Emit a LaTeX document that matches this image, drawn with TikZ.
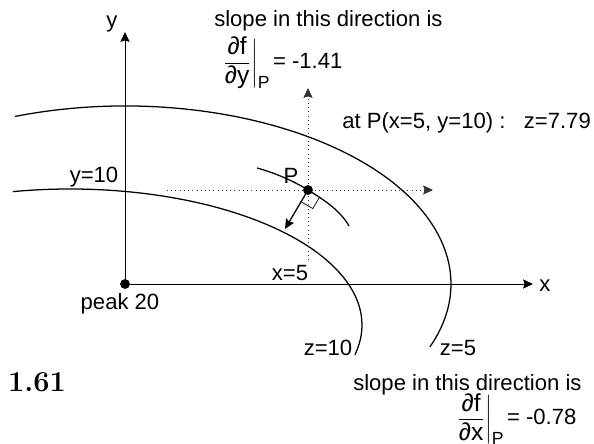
\documentclass[tikz,border=0pt]{standalone}
\usepackage{amsmath}
\usepackage{fontspec}
\newfontfamily\arialfont{Liberation Sans}
\usetikzlibrary{calc,arrows.meta}
\newcommand{\pdsize}{\fontsize{17.5}{20}\selectfont}
\newcommand{\subsize}{\fontsize{12.5}{14}\selectfont}

\begin{document}
\begin{tikzpicture}[>={Stealth[length=7pt,width=6.5pt,inset=1pt]}, x=0.025cm, y=-0.025cm,
	every node/.style={font=\arialfont\fontsize{15.7}{18}\selectfont, inner sep=0pt},
	axis/.style={line width=0.6pt},
	contour/.style={line width=0.9pt},
	guide/.style={black!80, line width=0.6pt, dash pattern=on 0.6pt off 2.4pt}]
			\useasboundingbox (0,0) rectangle (594,444);
			% 原点, 点P, 内圈中心
			\coordinate (O) at (125,284);
			\coordinate (P) at (308,190);
			\coordinate (C) at (70,325);
			% 坐标轴
			\coordinate (ytip) at (125,32);
			\coordinate (xtip) at (533,284);
			\draw[axis,->] (O) -- (ytip);
			\draw[axis,->] (O) -- (xtip);
			\node (ylab) at (112,24) {y};
			\node (xlab) at (545,286) {x};
			% 山峰
			\fill (O) circle (3.5pt);
			\node (peak) at (120,304) {peak 20};
			% 等高线 z=5
			\draw[contour] ($(O)+(-109.7:326 and 178)$) arc[start angle=-109.7, end angle=20.7, x radius=326, y radius=178];
			% 等高线 z=10
			\draw[contour] ($(C)+(-101.3:292 and 136)$) arc[start angle=-101.3, end angle=12.7, x radius=292, y radius=136];
			% 过P的等高线
			\draw[contour] (257,168) .. controls (275,173) and (292.7,180.5) .. (P) .. controls (323.3,199.5) and (340,210) .. (349,226);
			% 虚线
			\coordinate (vbot) at (308,260);
			\coordinate (vtop) at (308,88);
			\coordinate (hl) at (167,190);
			\coordinate (hr) at (433,190);
			\draw[guide,->] (vbot) -- (vtop);
			\draw[guide,->] (hl) -- (hr);
			% 梯度方向
			\coordinate (G) at (285,229);
			\draw[contour,->] (P) -- (G);
			\coordinate (ra) at ($(P)!0.3!(G)$);
			\coordinate (rb) at ($(P)!0.3!90:(G)$);
			\draw[line width=0.5pt] (ra) -- ($(ra)+(rb)-(P)$) -- (rb);
			% 点P
			\fill (P) circle (3.5pt);
			\node (plab) at (291,176) {P};
			% 标注
			\node (ylevel) at (94,177) {y=10};
			\node (xlevel) at (290,273) {x=5};
			\node (zten) at (328,348) {z=10};
			\node (zfive) at (458,348) {z=5};
			\node[anchor=west] (atP) at (342,123) {at P(x=5, y=10) :\ \ \ z=7.79};
			% y方向斜率
			\node[anchor=west] (slopey) at (214,21) {slope in this direction is};
			\node[anchor=west] (dfdy) at (223,63) {$\dfrac{\mbox{\pdsize ∂f}}{\mbox{\pdsize ∂y}}\bigg|_{\mbox{\subsize P}}$\hspace{2pt}= -1.41};
			% x方向斜率
			\node[anchor=west] (slopex) at (353,385) {slope in this direction is};
			\node[anchor=west] (dfdx) at (457,419) {$\dfrac{\mbox{\pdsize ∂f}}{\mbox{\pdsize ∂x}}\bigg|_{\mbox{\subsize P}}$\hspace{2pt}= -0.78};
			% 题号
			\node[font=\rmfamily\bfseries\fontsize{20.5}{24}\selectfont] (num) at (37,382) {1.61};
		\end{tikzpicture}
\end{document}
